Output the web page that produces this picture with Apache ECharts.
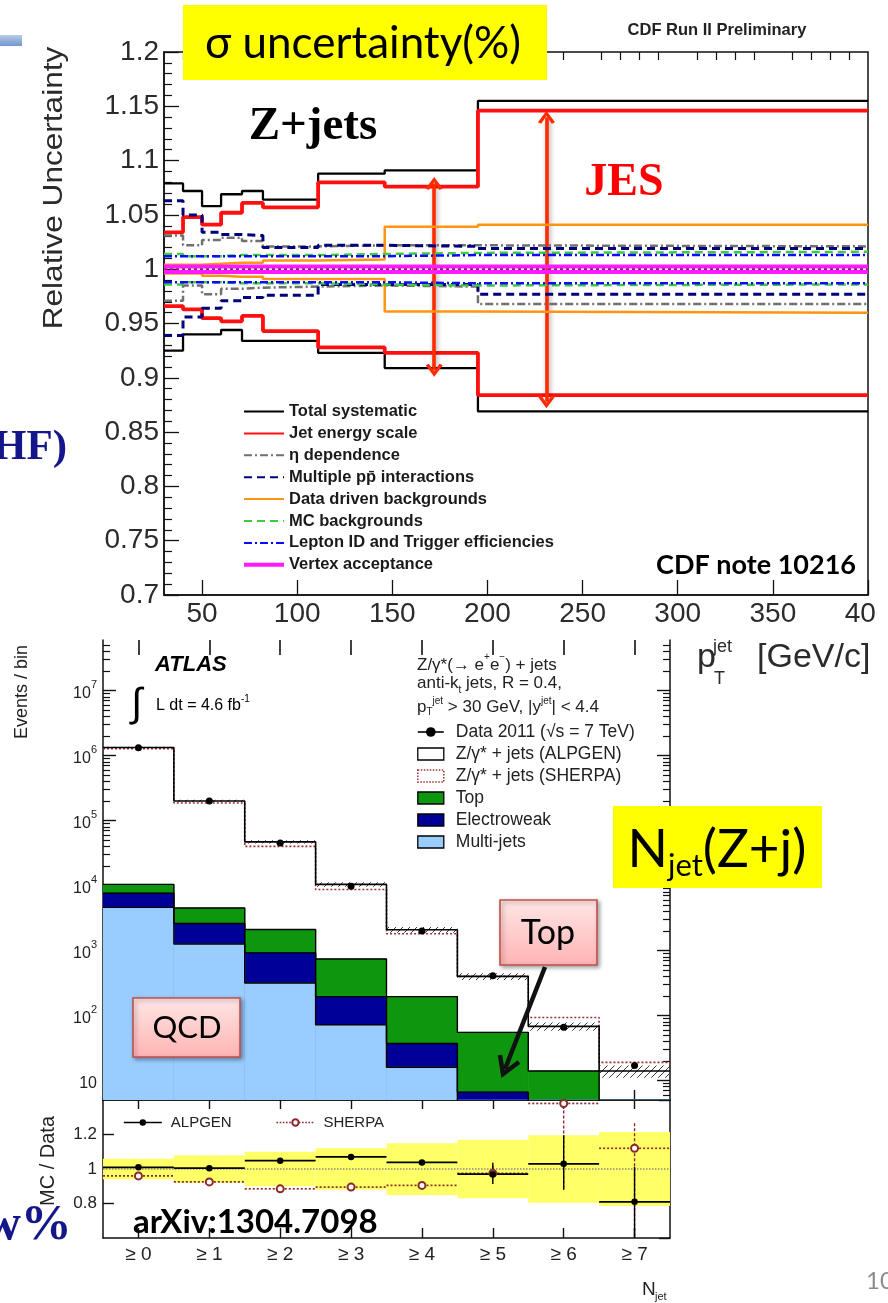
<!DOCTYPE html>
<html>
<head>
<meta charset="utf-8">
<script src="https://cdn.jsdelivr.net/npm/echarts@6/dist/echarts.min.js"></script>
<style>
html, body { margin: 0; padding: 0; background: #fff; }
#c { width: 888px; height: 1303px; }
</style>
</head>
<body>
<div id="c"></div>
<script>
// ---------- CDF Z+jets: relative systematic uncertainties vs jet pT ----------
const ptEdges = [30, 40, 50, 60, 71, 82, 111, 146, 195, 400];
const ptTicks = [50, 100, 150, 200, 250, 300, 350, 400];
const ptMinorTicks = [40, 60, 70, 80, 90, 110, 120, 130, 140, 160, 170, 180, 190, 210, 220, 230, 240,
  260, 270, 280, 290, 310, 320, 330, 340, 360, 370, 380, 390];

const totalUp   = [1.079, 1.072, 1.058, 1.069, 1.072, 1.064, 1.088, 1.091, 1.155];
const totalDown = [0.925, 0.940, 0.940, 0.944, 0.934, 0.934, 0.923, 0.909, 0.869];
const jesUp     = [1.034, 1.048, 1.041, 1.052, 1.061, 1.057, 1.080, 1.076, 1.146];
const jesDown   = [0.966, 0.963, 0.955, 0.952, 0.957, 0.943, 0.928, 0.923, 0.884];
const etaUp     = [1.031, 1.022, 1.027, 1.029, 1.026, 1.021, 1.022, 1.022, 1.021];
const etaDown   = [0.971, 0.985, 0.977, 0.982, 0.983, 0.984, 0.985, 0.984, 0.968];
const mpiUp     = [1.063, 1.050, 1.034, 1.032, 1.031, 1.020, 1.022, 1.021, 1.019];
const mpiDown   = [0.939, 0.956, 0.964, 0.971, 0.974, 0.976, 0.986, 0.986, 0.977];
const ddbUp     = [1.004, 1.004, 1.005, 1.006, 1.006, 1.008, 1.009, 1.039, 1.041];
const ddbDown   = [0.996, 0.996, 0.994, 0.993, 0.993, 0.991, 0.991, 0.961, 0.960];
const mcbUp     = [1.014, 1.012, 1.012, 1.013, 1.013, 1.013, 1.014, 1.015, 1.016];
const mcbDown   = [0.986, 0.988, 0.988, 0.987, 0.987, 0.987, 0.986, 0.985, 0.986];
const lepUp     = [1.012, 1.012, 1.012, 1.012, 1.012, 1.012, 1.012, 1.013, 1.013];
const lepDown   = [0.988, 0.988, 0.988, 0.988, 0.988, 0.988, 0.988, 0.987, 0.987];
const vtxUp     = [1.0025, 1.0025, 1.0025, 1.0025, 1.0025, 1.0025, 1.0025, 1.0025, 1.0025];
const vtxDown   = [0.9975, 0.9975, 0.9975, 0.9975, 0.9975, 0.9975, 0.9975, 0.9975, 0.9975];

// JES spread arrows (pT position, lower and upper tip)
const arrowPt   = [172, 231];
const arrowLow  = [0.907, 0.878];
const arrowHigh = [1.079, 1.140];

// ---------- ATLAS Z(->ee)+jets: inclusive jet multiplicity ----------
const njetLabels = ['≥ 0', '≥ 1', '≥ 2', '≥ 3', '≥ 4', '≥ 5', '≥ 6', '≥ 7'];
const dataEvents   = [1.32e6, 2.0e5, 4.5e4, 9.7e3, 2.0e3, 410, 66, 17];
const alpgenEvents = [1.33e6, 2.0e5, 4.7e4, 1.04e4, 2.08e3, 400, 68, 14];
const alpgenLow    = [1.29e6, 1.92e5, 4.42e4, 9.6e3, 1.87e3, 352, 58, 11];
const alpgenHigh   = [1.37e6, 2.08e5, 4.98e4, 1.12e4, 2.29e3, 448, 78, 17];
const sherpaEvents = [1.27e6, 1.86e5, 4.0e4, 8.7e3, 1.81e3, 400, 93, 19];
// cumulative background levels: multi-jets, + electroweak, + top
const multijetLevel    = [4600, 1260, 316, 72, 16, 1.5, 0.3, 0.1];
const electroweakLevel = [7600, 2600, 920, 195, 37, 6.6, 1.0, 0.3];
const topLevel         = [10400, 4500, 2100, 740, 195, 55, 14, 2.8];
const decadeTicks = [10, 100, 1e3, 1e4, 1e5, 1e6, 1e7];

// MC / Data ratio panel
const ratioBandLow   = [0.94, 0.92, 0.90, 0.88, 0.85, 0.83, 0.805, 0.785];
const ratioBandHigh  = [1.06, 1.08, 1.10, 1.12, 1.15, 1.17, 1.195, 1.215];
const alpgenRatio    = [1.010, 1.005, 1.048, 1.070, 1.038, 0.970, 1.030, 0.810];
const alpgenRatioLow = [1.000, 0.995, 1.038, 1.060, 1.025, 0.913, 0.879, 0.550];
const alpgenRatioHigh= [1.020, 1.015, 1.058, 1.080, 1.050, 1.036, 1.196, 1.013];
const sherpaRatio    = [0.960, 0.925, 0.885, 0.895, 0.905, 0.975, 1.380, 1.120];
const sherpaRatioLow = [0.950, 0.915, 0.875, 0.885, 0.895, 0.930, 0.880, 0.550];
const sherpaRatioHigh= [0.970, 0.935, 0.895, 0.905, 0.915, 1.020, 1.600, 1.265];

// ---------- helpers ----------
const SANS = '"Liberation Sans", Arial, Helvetica, sans-serif';
const SLIDE = 'Lato, "Open Sans", sans-serif';
const SERIF = '"Liberation Serif", "Times New Roman", serif';
const atlasMin = 5, atlasMax = 6e7;

function stepPoints(edges, vals) {
  const pts = vals.map((v, i) => [edges[i], v]);
  pts.push([edges[edges.length - 1], vals[vals.length - 1]]);
  return pts;
}
const njetCenters = njetLabels.map((_, i) => i);
const njetEdges = njetLabels.map((_, i) => i - 0.5).concat([njetLabels.length - 0.5]);

const logMinorTicks = [];
for (let e = 0; e <= 7; e++) {
  for (let m = 2; m <= 9; m++) {
    const v = m * Math.pow(10, e);
    if (v > atlasMin && v < atlasMax) logMinorTicks.push(v);
  }
}

function hatchCanvas() {
  const c = document.createElement('canvas');
  c.width = 7; c.height = 7;
  const g = c.getContext('2d');
  g.strokeStyle = '#3a3a3a';
  g.lineWidth = 1;
  g.beginPath(); g.moveTo(-1, 8); g.lineTo(8, -1); g.stroke();
  return c;
}
const hatchFill = { image: hatchCanvas(), repeat: 'repeat' };

const chevron = 'path://M0,12 L8,0 L16,12 L13,13.6 L8,5.6 L3,13.6 Z';

// ---------- CDF series ----------
const cdfDefs = [
  { name: 'Total systematic', up: totalUp, down: totalDown, color: '#000000', width: 2.3, type: 'solid' },
  { name: 'Jet energy scale', up: jesUp, down: jesDown, color: '#ff1010', width: 3.8, type: 'solid' },
  { name: 'η dependence', up: etaUp, down: etaDown, color: '#707070', width: 2.5, type: [8, 3, 2, 3] },
  { name: 'Multiple pp\u0304 interactions', up: mpiUp, down: mpiDown, color: '#00007a', width: 3, type: [8, 5] },
  { name: 'Data driven backgrounds', up: ddbUp, down: ddbDown, color: '#ff9410', width: 2.5, type: 'solid' },
  { name: 'MC backgrounds', up: mcbUp, down: mcbDown, color: '#3ccc3c', width: 2.5, type: [8, 5] },
  { name: 'Lepton ID and Trigger efficiencies', up: lepUp, down: lepDown, color: '#0a0aff', width: 2.5, type: [8, 3, 2, 3] },
  { name: 'Vertex acceptance', up: vtxUp, down: vtxDown, color: '#ff1aff', width: 4, type: 'solid' }
];

const series = [];
cdfDefs.forEach((d, k) => {
  [d.up, d.down].forEach((vals, j) => {
    const s = {
      name: d.name, type: 'line', xAxisIndex: 0, yAxisIndex: 0, step: 'end', symbol: 'none',
      silent: true, data: stepPoints(ptEdges, vals), color: d.color,
      lineStyle: { color: d.color, width: d.width, type: d.type }, z: 3 + k
    };
    if (d.name === 'Jet energy scale' && j === 0) {
      s.markLine = {
        silent: true, symbol: [chevron, chevron], symbolSize: [17, 13],
        label: { show: false },
        lineStyle: { color: '#ff2a00', width: 3.6, type: 'solid', shadowBlur: 5,
          shadowColor: 'rgba(0,0,0,0.35)', shadowOffsetX: 1.5, shadowOffsetY: 2 },
        data: arrowPt.map((x, i) => [{ coord: [x, arrowLow[i]] }, { coord: [x, arrowHigh[i]] }])
      };
    }
    if (d.name === 'Vertex acceptance' && j === 0) {
      s.markLine = {
        silent: true, symbol: 'none', label: { show: false },
        lineStyle: { color: '#7a2a6a', width: 2, type: [3, 3] },
        data: [{ yAxis: 1 }]
      };
    }
    series.push(s);
  });
});

// ---------- ATLAS main panel series ----------
const dataName = 'Data 2011 (√s = 7 TeV)';
const alpgenName = 'Z/γ* + jets (ALPGEN)';
const sherpaName = 'Z/γ* + jets (SHERPA)';

// filled histogram: every bin is a box from the axis floor up to its level
function filledBins(name, levels, fill, z) {
  return {
    name, type: 'custom', xAxisIndex: 2, yAxisIndex: 1, silent: true, clip: true, z,
    data: njetCenters.map(i => [i, levels[i]]),
    renderItem: (params, api) => {
      const i = api.value(0);
      const a = api.coord([i - 0.5, api.value(1)]);
      const b = api.coord([i + 0.5, atlasMin]);
      return { type: 'rect', shape: { x: a[0], y: a[1], width: b[0] - a[0], height: b[1] - a[1] },
        style: { fill, stroke: fill, lineWidth: 0.6 } };
    }
  };
}
function outline(name, levels, z) {
  return {
    name, type: 'line', xAxisIndex: 2, yAxisIndex: 1, step: 'end', symbol: 'none', silent: true,
    data: stepPoints(njetEdges, levels), color: '#000', lineStyle: { color: '#000', width: 1.4 }, z
  };
}
series.push(filledBins('Top', topLevel, '#0f960f', 2));
series.push(filledBins('Electroweak', electroweakLevel, '#000099', 3));
series.push(filledBins('Multi-jets', multijetLevel, '#99ccff', 4));
series.push(outline('top edge', topLevel, 5));
series.push(outline('electroweak edge', electroweakLevel, 5));
series.push(outline('multi-jet edge', multijetLevel, 5));
series.push({
  name: 'ALPGEN uncertainty', type: 'custom', xAxisIndex: 2, yAxisIndex: 1, silent: true, clip: true, z: 6,
  data: njetCenters.map(i => [i, alpgenLow[i], alpgenHigh[i]]),
  renderItem: (params, api) => {
    const i = api.value(0);
    const a = api.coord([i - 0.5, api.value(2)]);
    const b = api.coord([i + 0.5, api.value(1)]);
    return { type: 'rect', shape: { x: a[0], y: a[1], width: b[0] - a[0], height: b[1] - a[1] },
      style: { fill: hatchFill } };
  }
});
series.push({
  name: alpgenName, type: 'line', xAxisIndex: 2, yAxisIndex: 1, step: 'end', symbol: 'none', silent: true,
  data: stepPoints(njetEdges, alpgenEvents), color: '#000', lineStyle: { color: '#000', width: 1.6 }, z: 8
});
series.push({
  name: sherpaName, type: 'line', xAxisIndex: 2, yAxisIndex: 1, step: 'end', symbol: 'none', silent: true,
  data: stepPoints(njetEdges, sherpaEvents), color: '#993333',
  lineStyle: { color: '#993333', width: 1.6, type: [2, 2] }, z: 7
});
series.push({
  name: dataName, type: 'line', xAxisIndex: 2, yAxisIndex: 1, symbol: 'circle', symbolSize: 7, silent: true,
  data: njetCenters.map(i => [i, dataEvents[i]]), color: '#000',
  itemStyle: { color: '#000' }, lineStyle: { opacity: 0 }, z: 10
});

// ---------- ratio panel series ----------
series.push({
  name: 'Data uncertainty', type: 'custom', xAxisIndex: 4, yAxisIndex: 5, silent: true, clip: true, z: 1,
  data: njetCenters.map(i => [i, ratioBandLow[i], ratioBandHigh[i]]),
  renderItem: (params, api) => {
    const i = api.value(0);
    const a = api.coord([i - 0.5, api.value(2)]);
    const b = api.coord([i + 0.5, api.value(1)]);
    return { type: 'rect', shape: { x: a[0], y: a[1], width: b[0] - a[0], height: b[1] - a[1] },
      style: { fill: '#ffff66' } };
  },
  markLine: { silent: true, symbol: 'none', label: { show: false },
    lineStyle: { color: '#8a8a8a', width: 1.5, type: 'dotted' }, data: [{ yAxis: 1 }] }
});
function errorBars(color, dashH, dashV) {
  return (params, api) => {
    const i = api.value(0), v = api.value(1), lo = api.value(2), hi = api.value(3);
    const l = api.coord([i - 0.5, v]), r = api.coord([i + 0.5, v]);
    const t = api.coord([i, hi]), b = api.coord([i, lo]);
    return { type: 'group', children: [
      { type: 'line', shape: { x1: l[0], y1: l[1], x2: r[0], y2: r[1] },
        style: { stroke: color, lineWidth: 1.7, lineDash: dashH } },
      { type: 'line', shape: { x1: t[0], y1: t[1], x2: b[0], y2: b[1] },
        style: { stroke: color, lineWidth: 1.4, lineDash: dashV } }
    ] };
  };
}
series.push({
  name: 'SHERPA bars', type: 'custom', xAxisIndex: 4, yAxisIndex: 5, silent: true, clip: true, z: 4,
  data: njetCenters.map(i => [i, sherpaRatio[i], sherpaRatioLow[i], sherpaRatioHigh[i]]),
  renderItem: errorBars('#8b2a2a', [2, 2], [3, 2])
});
series.push({
  name: 'ALPGEN bars', type: 'custom', xAxisIndex: 4, yAxisIndex: 5, silent: true, clip: true, z: 5,
  data: njetCenters.map(i => [i, alpgenRatio[i], alpgenRatioLow[i], alpgenRatioHigh[i]]),
  renderItem: errorBars('#000', null, null)
});
series.push({
  name: 'SHERPA', type: 'line', xAxisIndex: 4, yAxisIndex: 5, symbol: 'emptyCircle', symbolSize: 7,
  silent: true, clip: true, data: njetCenters.map(i => [i, sherpaRatio[i]]), color: '#8b2a2a',
  itemStyle: { color: '#8b2a2a', borderWidth: 1.5 }, lineStyle: { opacity: 0 }, z: 6
});
series.push({
  name: 'ALPGEN', type: 'line', xAxisIndex: 4, yAxisIndex: 5, symbol: 'circle', symbolSize: 6.5,
  silent: true, clip: true, data: njetCenters.map(i => [i, alpgenRatio[i]]), color: '#000',
  itemStyle: { color: '#000' }, lineStyle: { opacity: 0 }, z: 7
});

// ---------- axes ----------
const axisLineBlack = { show: true, onZero: false, lineStyle: { color: '#111', width: 1.5 } };
const noLine = { show: false, onZero: false };
const logLabel = {
  customValues: decadeTicks, margin: 6,
  formatter: v => {
    const e = Math.round(Math.log10(v));
    return e === 1 ? '{b|10}' : '{b|10}{s|' + e + '}';
  },
  rich: {
    b: { fontSize: 16, fontFamily: SANS, color: '#222', lineHeight: 22, verticalAlign: 'bottom' },
    s: { fontSize: 11, fontFamily: SANS, color: '#222', lineHeight: 12, verticalAlign: 'top' }
  }
};

const xAxis = [
  { gridIndex: 0, type: 'value', min: 30, max: 400, axisLine: axisLineBlack,
    axisTick: { inside: true, length: 15, customValues: ptTicks, lineStyle: { color: '#111', width: 1.3 } },
    axisLabel: { customValues: ptTicks, margin: 5, fontSize: 28, fontFamily: SANS, color: '#2b2b2b' },
    splitLine: { show: false } },
  { gridIndex: 0, type: 'value', min: 30, max: 400, axisLine: noLine,
    axisTick: { inside: true, length: 8, customValues: ptMinorTicks, lineStyle: { color: '#111', width: 1.2 } },
    axisLabel: { show: false }, splitLine: { show: false } },
  { gridIndex: 1, type: 'value', min: -0.5, max: 7.5, position: 'bottom', axisLine: axisLineBlack,
    axisTick: { inside: true, length: 10, customValues: njetCenters, lineStyle: { color: '#111', width: 1.4 } },
    axisLabel: { show: false }, splitLine: { show: false } },
  { gridIndex: 1, type: 'value', min: -0.5, max: 7.5, position: 'top', axisLine: noLine,
    axisTick: { inside: true, length: 15, customValues: njetCenters, lineStyle: { color: '#111', width: 1.6 } },
    axisLabel: { show: false }, splitLine: { show: false } },
  { gridIndex: 2, type: 'value', min: -0.5, max: 7.5, position: 'bottom', axisLine: axisLineBlack,
    axisTick: { inside: true, length: 10, customValues: njetCenters, lineStyle: { color: '#111', width: 1.4 } },
    axisLabel: { customValues: njetCenters, formatter: v => njetLabels[Math.round(v)], margin: 7,
      fontSize: 19, fontFamily: SANS, color: '#222' },
    splitLine: { show: false } },
  { gridIndex: 2, type: 'value', min: -0.5, max: 7.5, position: 'top', axisLine: axisLineBlack,
    axisTick: { inside: true, length: 9, customValues: njetCenters, lineStyle: { color: '#111', width: 1.4 } },
    axisLabel: { show: false }, splitLine: { show: false } }
];

const yAxis = [
  { gridIndex: 0, type: 'value', min: 0.7, max: 1.2, interval: 0.05, axisLine: axisLineBlack,
    axisTick: { inside: true, length: 15, lineStyle: { color: '#111', width: 1.3 } },
    minorTick: { show: true, splitNumber: 5, length: 8, lineStyle: { color: '#111', width: 1.2 } },
    axisLabel: { margin: 5, fontSize: 28, fontFamily: SANS, color: '#2b2b2b' },
    splitLine: { show: false }, minorSplitLine: { show: false } },
  { gridIndex: 1, type: 'log', min: atlasMin, max: atlasMax, position: 'left', axisLine: axisLineBlack,
    axisTick: { inside: true, length: 13, customValues: decadeTicks, lineStyle: { color: '#111', width: 1.4 } },
    axisLabel: logLabel, splitLine: { show: false } },
  { gridIndex: 1, type: 'log', min: atlasMin, max: atlasMax, position: 'left', axisLine: noLine,
    axisTick: { inside: true, length: 7, customValues: logMinorTicks, lineStyle: { color: '#111', width: 1.2 } },
    axisLabel: { show: false }, splitLine: { show: false } },
  { gridIndex: 1, type: 'log', min: atlasMin, max: atlasMax, position: 'right', axisLine: axisLineBlack,
    axisTick: { inside: true, length: 13, customValues: decadeTicks, lineStyle: { color: '#111', width: 1.4 } },
    axisLabel: { show: false }, splitLine: { show: false } },
  { gridIndex: 1, type: 'log', min: atlasMin, max: atlasMax, position: 'right', axisLine: noLine,
    axisTick: { inside: true, length: 7, customValues: logMinorTicks, lineStyle: { color: '#111', width: 1.2 } },
    axisLabel: { show: false }, splitLine: { show: false } },
  { gridIndex: 2, type: 'value', min: 0.6, max: 1.4, interval: 0.2, position: 'left', axisLine: axisLineBlack,
    axisTick: { inside: true, length: 11, lineStyle: { color: '#111', width: 1.4 } },
    axisLabel: { showMinLabel: false, showMaxLabel: false, margin: 6, fontSize: 17, fontFamily: SANS, color: '#222' },
    splitLine: { show: false } },
  { gridIndex: 2, type: 'value', min: 0.6, max: 1.4, interval: 0.2, position: 'right', axisLine: axisLineBlack,
    axisTick: { inside: true, length: 11, lineStyle: { color: '#111', width: 1.4 } },
    axisLabel: { show: false }, splitLine: { show: false } }
];

// ---------- legends ----------
const legends = [
  { orient: 'vertical', left: 242, top: 403, padding: 0, itemWidth: 40, itemHeight: 14, itemGap: 4.9,
    selectedMode: false, itemStyle: { opacity: 0 },
    textStyle: { fontFamily: SANS, fontWeight: 'bold', fontSize: 16.5, color: '#1a1a1a' },
    data: cdfDefs.map(d => d.name === 'Vertex acceptance'
      ? { name: d.name, lineStyle: { width: 4 } } : { name: d.name }) },
  { orient: 'vertical', left: 417, top: 723, padding: 0, itemWidth: 26, itemHeight: 12, itemGap: 4,
    selectedMode: false,
    textStyle: { fontFamily: SANS, fontSize: 17.5, color: '#222', padding: [0, 0, 0, 7] },
    data: [
      { name: dataName, lineStyle: { opacity: 1, width: 1.6, color: '#000' } },
      { name: alpgenName, icon: 'rect', itemStyle: { color: '#fff', borderColor: '#000', borderWidth: 1.3 } },
      { name: sherpaName, icon: 'rect', itemStyle: { color: '#fff', borderColor: '#993333', borderWidth: 1.5, borderType: 'dotted' } },
      { name: 'Top', icon: 'rect', itemStyle: { color: '#0f960f', borderColor: '#000', borderWidth: 1.3 } },
      { name: 'Electroweak', icon: 'rect', itemStyle: { color: '#000099', borderColor: '#000', borderWidth: 1.3 } },
      { name: 'Multi-jets', icon: 'rect', itemStyle: { color: '#99ccff', borderColor: '#000', borderWidth: 1.3 } }
    ] },
  { orient: 'horizontal', left: 123, top: 1115, padding: 0, itemWidth: 38, itemHeight: 8, itemGap: 44,
    selectedMode: false,
    textStyle: { fontFamily: SANS, fontSize: 15, color: '#222', padding: [0, 0, 0, 4] },
    data: [
      { name: 'ALPGEN', lineStyle: { opacity: 1, width: 1.6, color: '#000', type: 'solid' } },
      { name: 'SHERPA', lineStyle: { opacity: 1, width: 1.6, color: '#8b2a2a', type: 'dotted' } }
    ] }
];

// ---------- annotations and titles ----------
function text(x, y, str, font, fill, align, extra) {
  return Object.assign({ type: 'text', x, y, z: 100,
    style: { text: str, font, fill, align: align || 'left', verticalAlign: 'middle' } }, extra || {});
}
const pinkGrad = () => new echarts.graphic.LinearGradient(0, 0, 0, 1,
  [{ offset: 0, color: '#ffe6e6' }, { offset: 1, color: '#ffb3b3' }]);
const calloutBox = (x, y, w, h) => ({
  type: 'rect', z: 100, shape: { x, y, width: w, height: h },
  style: { fill: pinkGrad(), stroke: '#c0504d', lineWidth: 1.6,
    shadowBlur: 4, shadowColor: 'rgba(0,0,0,0.35)', shadowOffsetX: 2, shadowOffsetY: 2 }
});

const graphic = [
  // slide decoration and cut-off slide text
  { type: 'rect', z: 100, shape: { x: 0, y: 35, width: 22, height: 11 },
    style: { fill: new echarts.graphic.LinearGradient(0, 0, 0, 1,
      [{ offset: 0, color: '#b7cbe6' }, { offset: 1, color: '#6f98cf' }]) } },
  text(-7, 448, 'HF)', 'bold 43px ' + SERIF, '#14168a'),
  text(-16, 1226, 'w%', 'bold 51px ' + SERIF, '#14168a'),
  text(866, 1281, '10', '24px ' + SLIDE, '#8c8c8c'),

  // CDF panel texts
  { type: 'rect', z: 100, shape: { x: 183, y: 5, width: 364, height: 75 }, style: { fill: '#ffff00' } },
  text(363, 44, 'σ uncertainty(%)', '44px ' + SLIDE, '#000', 'center'),
  text(717, 30, 'CDF Run II Preliminary', 'bold 16.5px ' + SANS, '#222', 'center'),
  text(313, 127, 'Z+jets', 'bold 47px ' + SERIF, '#000', 'center'),
  text(624, 183, 'JES', 'bold 46px ' + SERIF, '#ff0000', 'center'),
  text(856, 565, 'CDF note 10216', 'bold 27px ' + SLIDE, '#000', 'right'),
  { type: 'text', x: 55, y: 188, rotation: Math.PI / 2, scaleX: 1.17, z: 100,
    style: { text: 'Relative Uncertainty', font: '27px ' + SANS, fill: '#2b2b2b', align: 'center', verticalAlign: 'middle' } },
  text(697, 658, 'p', '34px ' + SANS, '#2b2b2b'),
  text(713, 647, 'jet', '18px ' + SANS, '#2b2b2b'),
  text(714, 679, 'T', '18px ' + SANS, '#2b2b2b'),
  text(757, 658, '[GeV/c]', '34px ' + SANS, '#2b2b2b'),
  { type: 'rect', z: 120, shape: { x: 877, y: 598, width: 11, height: 34 }, style: { fill: '#fff' } },

  // ATLAS panel texts
  text(155, 665, 'ATLAS', 'italic bold 22px ' + SANS, '#000'),
  text(131, 705, '∫', '40px ' + SANS, '#000'),
  { type: 'text', x: 156, y: 704, z: 100, style: { text: '{n|L dt = 4.6 fb}{s|-1}', verticalAlign: 'middle', rich: {
      n: { fontSize: 16, fontFamily: SANS, fill: '#000', lineHeight: 20, verticalAlign: 'bottom' },
      s: { fontSize: 10, fontFamily: SANS, fill: '#000', lineHeight: 11, verticalAlign: 'top' } } } },
  { type: 'text', x: 417, y: 663, z: 100, style: { text: '{n|Z/γ*(→ e}{s|+}{n|e}{s|−}{n|) + jets}', verticalAlign: 'middle', rich: {
      n: { fontSize: 17, fontFamily: SANS, fill: '#222', lineHeight: 21, verticalAlign: 'bottom' },
      s: { fontSize: 10, fontFamily: SANS, fill: '#222', lineHeight: 11, verticalAlign: 'top' } } } },
  { type: 'text', x: 417, y: 685, z: 100, style: { text: '{n|anti-k}{b|t}{n| jets, R = 0.4,}', verticalAlign: 'middle', rich: {
      n: { fontSize: 17, fontFamily: SANS, fill: '#222', lineHeight: 21, verticalAlign: 'top' },
      b: { fontSize: 10, fontFamily: SANS, fill: '#222', lineHeight: 11, verticalAlign: 'bottom' } } } },
  { type: 'text', x: 417, y: 707, z: 100, style: { text: '{n|p}{b|T}{s|jet}{n| > 30 GeV, |y}{s|jet}{n|| < 4.4}', verticalAlign: 'middle', rich: {
      n: { fontSize: 17, fontFamily: SANS, fill: '#222', lineHeight: 21, verticalAlign: 'middle' },
      s: { fontSize: 10, fontFamily: SANS, fill: '#222', lineHeight: 11, verticalAlign: 'top' },
      b: { fontSize: 10, fontFamily: SANS, fill: '#222', lineHeight: 11, verticalAlign: 'bottom' } } } },
  { type: 'text', x: 22, y: 645, rotation: Math.PI / 2, z: 100,
    style: { text: 'Events / bin', font: '18px ' + SANS, fill: '#222', align: 'right', verticalAlign: 'middle' } },
  { type: 'text', x: 48, y: 1116, rotation: Math.PI / 2, z: 90,
    style: { text: 'MC / Data', font: '20px ' + SANS, fill: '#222', align: 'right', verticalAlign: 'middle' } },
  text(642, 1290, 'N', '19px ' + SANS, '#222'),
  text(655, 1297, 'jet', '11px ' + SANS, '#222'),
  text(133, 1222, 'arXiv:1304.7098', 'bold 33px ' + SLIDE, '#000'),

  // N_jet(Z+j) label
  { type: 'rect', z: 100, shape: { x: 613, y: 806, width: 209, height: 82 }, style: { fill: '#ffff00' } },
  { type: 'text', x: 717, y: 852, z: 101, style: { text: '{n|N}{s|jet}{n|(Z+j)}', align: 'center', verticalAlign: 'middle', rich: {
      n: { fontSize: 53, fontFamily: SLIDE, fill: '#000', lineHeight: 58, verticalAlign: 'top' },
      s: { fontSize: 31, fontFamily: SLIDE, fill: '#000', lineHeight: 35, verticalAlign: 'bottom' } } } },

  // callouts
  calloutBox(500, 900, 97, 65),
  text(548, 933, 'Top', '34px ' + SLIDE, '#000', 'center'),
  calloutBox(133, 998, 107, 59),
  text(187, 1028, 'QCD', '31px ' + SLIDE, '#000', 'center'),
  { type: 'line', z: 101, shape: { x1: 545, y1: 967, x2: 505, y2: 1069 }, style: { stroke: '#111', lineWidth: 4.5 } },
  { type: 'polyline', z: 101, shape: { points: [[519, 1062], [503, 1074], [500, 1055]] },
    style: { stroke: '#111', lineWidth: 4.5, fill: null, lineJoin: 'miter' } }
];

const option = {
  animation: false,
  backgroundColor: '#ffffff',
  grid: [
    { left: 164, top: 52, width: 704, height: 543, show: true, borderColor: '#111', borderWidth: 1.5,
      backgroundColor: 'transparent', containLabel: false, outerBoundsMode: 'none' },
    { left: 103, top: 640, width: 567, height: 460, containLabel: false, outerBoundsMode: 'none' },
    { left: 103, top: 1100, width: 567, height: 138, containLabel: false, outerBoundsMode: 'none' }
  ],
  xAxis, yAxis,
  legend: legends,
  tooltip: { show: false },
  series,
  graphic
};

const chart = echarts.init(document.getElementById('c'), null, { renderer: 'canvas', width: 888, height: 1303 });
chart.setOption(option);
</script>
</body>
</html>
